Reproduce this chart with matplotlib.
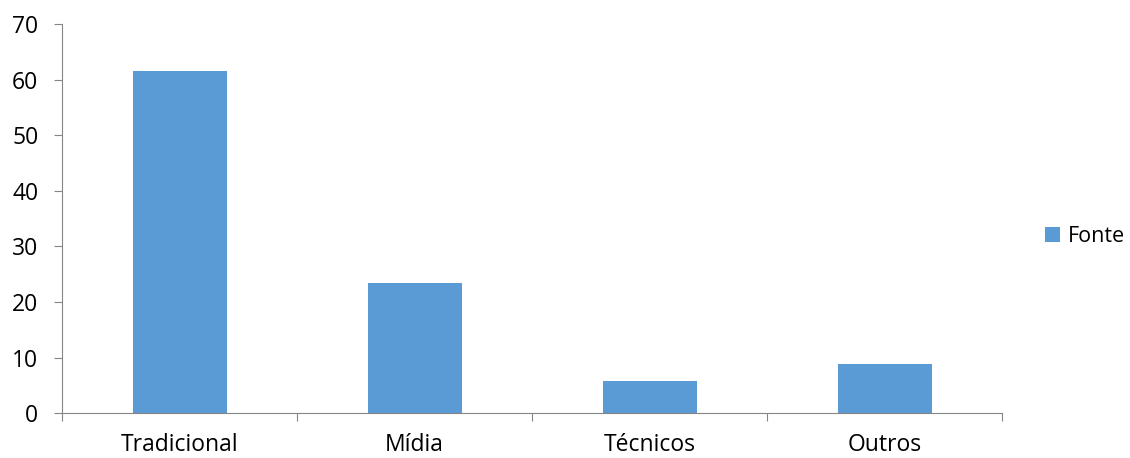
import matplotlib.pyplot as plt
import numpy as np

categorias = ['Tradicional', 'Mídia', 'Técnicos', 'Outros']
fonte = [61.6, 23.5, 5.8, 8.8]
serie = 'Fonte'

plt.rcParams['font.family'] = ['Open Sans', 'DejaVu Sans']

fig = plt.figure(figsize=(11.3, 4.58), dpi=100)
ax = fig.add_axes([0.0549, 0.0976, 0.832, 0.85])

x = np.arange(len(categorias))
ax.bar(x, fonte, width=0.4, color='#5b9bd5', label=serie)

ax.set_xlim(-0.5, len(categorias) - 0.5)
ax.set_ylim(0, 70)
ax.set_yticks(range(0, 71, 10))

# tick marks sit between categories, labels sit under bars
ax.set_xticks(np.arange(-0.5, len(categorias), 1.0))
ax.set_xticklabels([])
ax.set_xticks(x, minor=True)
ax.set_xticklabels(categorias, minor=True)
ax.tick_params(axis='x', which='minor', length=0, pad=14.5, labelsize=16.5)
ax.tick_params(axis='x', which='major', length=6, color='#868686')
ax.tick_params(axis='y', length=6, color='#868686', labelsize=16.5, pad=11)

for s in ['top', 'right']:
    ax.spines[s].set_visible(False)
for s in ['left', 'bottom']:
    ax.spines[s].set_color('#868686')

ax.legend(loc='center left', bbox_to_anchor=(1.0457, 0.453), frameon=False,
          fontsize=15.5, borderpad=0, borderaxespad=0,
          handlelength=0.7, handleheight=0.7, handletextpad=0.35)

fig.savefig('out.png')
